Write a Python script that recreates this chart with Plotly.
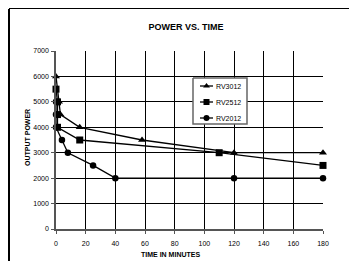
import plotly.graph_objects as go

# Data
rv3012_t = [0, 2, 3, 16, 58, 120, 180]
rv3012_p = [6000, 5000, 4500, 4000, 3500, 3000, 3000]

rv2512_t = [0, 1, 1, 1, 16, 110, 180]
rv2512_p = [5500, 5000, 4500, 4000, 3500, 3000, 2500]

rv2012_t = [0, 0, 0, 4, 8, 25, 40, 120, 180]
rv2012_p = [5000, 4500, 4000, 3500, 3000, 2500, 2000, 2000, 2000]

series_names = ["RV3012", "RV2512", "RV2012"]
series_symbols = ["triangle-up", "square", "circle"]

x_ticks = [0, 20, 40, 60, 80, 100, 120, 140, 160, 180]
y_ticks = [0, 1000, 2000, 3000, 4000, 5000, 6000, 7000]

# Page geometry (the page body has an 8px margin)
OFF = 8
PAGE_W, PAGE_H = 357, 261
W, H = PAGE_W - OFF, PAGE_H - OFF
PL, PR, PT, PB = 56, 323, 51, 229          # plot area in page pixels
L, R, T, B = PL - OFF, PAGE_W - PR, PT - OFF, PAGE_H - PB

FONT = "Liberation Sans, Arial, sans-serif"
pw, ph = PR - PL, PB - PT


def px_x(px):
    return (px - PL) / pw


def px_y(py):
    return (PB - py) / ph


fig = go.Figure()
data = [(rv3012_t, rv3012_p), (rv2512_t, rv2512_p), (rv2012_t, rv2012_p)]
for name, sym, (xs, ys) in zip(series_names, series_symbols, data):
    fig.add_trace(go.Scatter(
        x=xs, y=ys, name=name, mode="lines+markers",
        line=dict(color="black", width=1.3),
        marker=dict(symbol=sym, size=7 if sym != "circle" else 6.5, color="black"),
        cliponaxis=False, showlegend=False,
    ))

# Legend box drawn on an overlay pixel axis
LB_X0, LB_X1, LB_Y0, LB_Y1 = 193, 247, 78, 124
fig.add_trace(go.Scatter(
    x=[LB_X0, LB_X1, LB_X1, LB_X0, LB_X0], y=[LB_Y0, LB_Y0, LB_Y1, LB_Y1, LB_Y0],
    mode="lines", fill="toself", fillcolor="white",
    line=dict(color="#666666", width=1.5), xaxis="x2", yaxis="y2",
    showlegend=False, hoverinfo="skip",
))
legend_rows = [86, 102, 118]
annotations = []
for name, sym, ry in zip(series_names, series_symbols, legend_rows):
    fig.add_trace(go.Scatter(
        x=[200, 213], y=[ry, ry], mode="lines", line=dict(color="black", width=1.3),
        xaxis="x2", yaxis="y2", showlegend=False, hoverinfo="skip",
    ))
    fig.add_trace(go.Scatter(
        x=[206.5], y=[ry], mode="markers",
        marker=dict(symbol=sym, size=6, color="black"),
        xaxis="x2", yaxis="y2", showlegend=False, hoverinfo="skip",
    ))
    annotations.append(dict(text=name, xref="x2", yref="y2", x=214, y=ry,
                            xanchor="left", yanchor="middle", showarrow=False,
                            font=dict(size=7)))

annotations += [
    dict(text="<b>TIME IN MINUTES</b>", xref="paper", yref="paper",
         x=px_x(170), y=px_y(254), showarrow=False,
         xanchor="center", yanchor="middle", font=dict(size=7)),
    dict(text="<b>OUTPUT POWER</b>", xref="paper", yref="paper",
         x=px_x(27), y=px_y(138), showarrow=False, textangle=-90,
         xanchor="center", yanchor="middle", font=dict(size=7)),
]

fig.update_layout(
    width=W, height=H,
    margin=dict(l=L, r=R, t=T, b=B),
    paper_bgcolor="white", plot_bgcolor="white",
    font=dict(family=FONT, color="black", size=7),
    title=dict(text="<b>POWER VS. TIME</b>", x=(186 - OFF) / W, xanchor="center",
               y=1 - (27 - OFF) / H, yanchor="middle", font=dict(size=9)),
    showlegend=False,
    xaxis=dict(range=[0, 180], tickvals=x_ticks, showgrid=True, gridcolor="black",
               gridwidth=1, zeroline=False, showline=True, linecolor="#555555",
               linewidth=1.5, ticks="outside", ticklen=3, tickcolor="#555555",
               tickfont=dict(size=7), ticklabelstandoff=4),
    yaxis=dict(range=[0, 7000], tickvals=y_ticks, showgrid=True, gridcolor="black",
               gridwidth=1, zeroline=False, showline=True, linecolor="#555555",
               linewidth=1.5, ticks="outside", ticklen=3, tickcolor="#555555",
               tickfont=dict(size=7), ticklabelstandoff=1),
    xaxis2=dict(overlaying="x", range=[PL, PR], visible=False, fixedrange=True),
    yaxis2=dict(overlaying="y", range=[PB, PT], visible=False, fixedrange=True),
    annotations=annotations,
    shapes=[
        dict(type="line", xref="paper", yref="paper",
             x0=px_x(9), x1=px_x(9), y0=px_y(9), y1=px_y(275),
             line=dict(color="black", width=2)),
        dict(type="line", xref="paper", yref="paper",
             x0=px_x(9), x1=px_x(380), y0=px_y(8), y1=px_y(8),
             line=dict(color="black", width=2)),
    ],
)

fig.write_html("out.html")
